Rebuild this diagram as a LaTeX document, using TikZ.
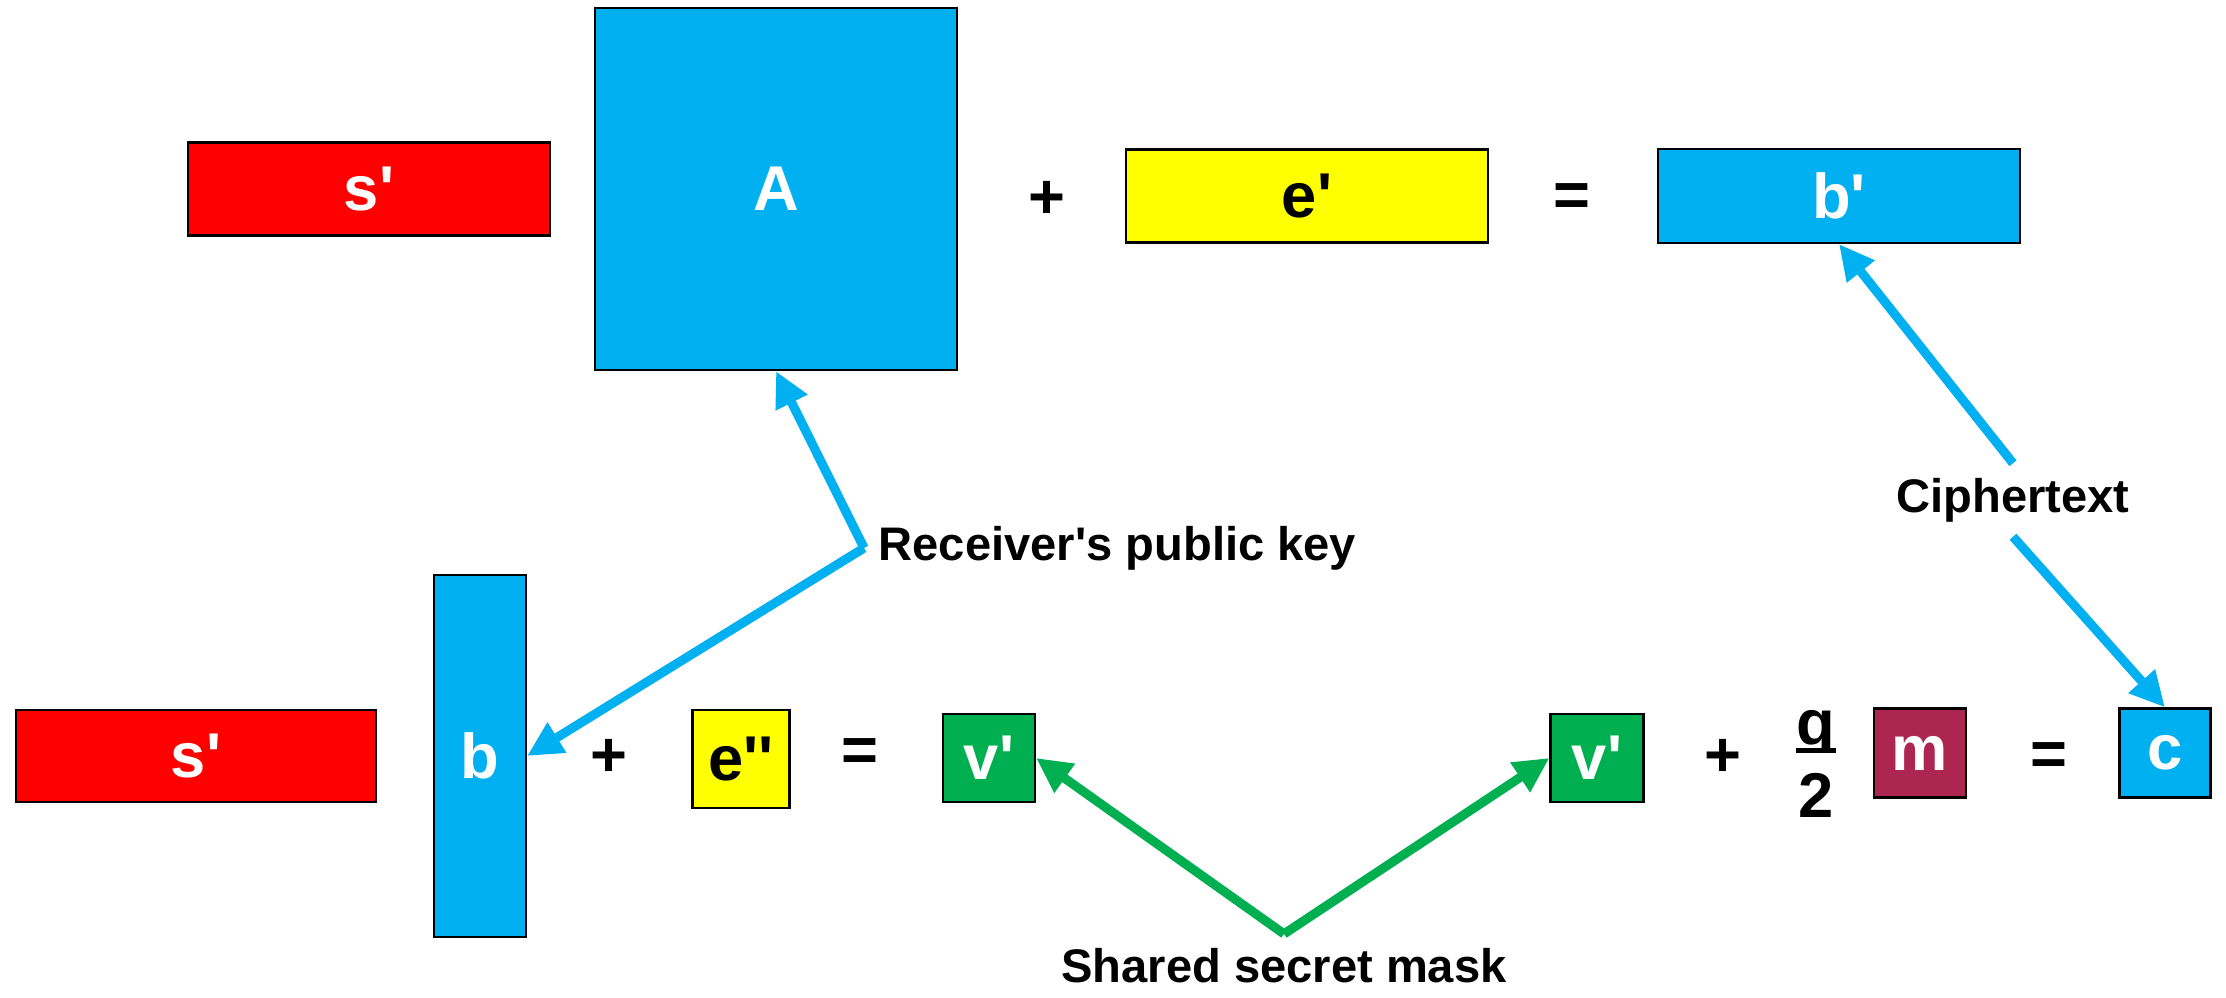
\documentclass[tikz,border=0pt]{standalone}
\usepackage{fontspec}
\setmainfont{Liberation Sans}[Ligatures=TeXOff]
\usepackage{tikz}
\usetikzlibrary{arrows.meta}
\definecolor{kblue}{RGB}{0,176,240}
\definecolor{kred}{RGB}{255,0,0}
\definecolor{kyellow}{RGB}{255,255,0}
\definecolor{kgreen}{RGB}{0,176,80}
\definecolor{kmaroon}{RGB}{173,38,81}

\begin{document}
\begin{tikzpicture}[x=0.01cm, y=-0.01cm,
  mat/.style={draw=black, line width=0.6pt, inner sep=0pt, text=white,
    font=\fontsize{18}{20}\selectfont\bfseries},
  sym/.style={inner sep=0pt, font=\fontsize{18}{20}\selectfont\bfseries},
  lbl/.style={inner sep=4pt, font=\fontsize{13.4}{15}\selectfont\bfseries},
  link/.style={line width=2.6pt, -{Triangle[length=10pt,width=9.5pt]}}]
\useasboundingbox (0,0) rectangle (2226,998);
%%%%% Encryption: u = A s' + e' %%%%%
\node[mat, fill=kred, minimum width=3.61cm, minimum height=0.93cm] (stop) at (369,189) {s'};
\node[mat, fill=kblue, minimum width=3.61cm, minimum height=3.62cm] (A) at (776,189) {A};
\node[sym] (plustop) at (1047,200) {+};
\node[mat, fill=kyellow, text=black, minimum width=3.61cm, minimum height=0.93cm] (etop) at (1307,196) {e'};
\node[sym] (eqtop) at (1572,200) {=};
\node[mat, fill=kblue, minimum width=3.62cm, minimum height=0.94cm] (bp) at (1839,196) {b'};
%%%%% Mask: v' = s' b + e'' %%%%%
\node[mat, fill=kred, minimum width=3.60cm, minimum height=0.92cm] (sbot) at (196,756) {s'};
\node[mat, fill=kblue, minimum width=0.92cm, minimum height=3.61cm] (b) at (480,756) {b};
\node[sym] (plusa) at (609,758) {+};
\node[mat, fill=kyellow, text=black, minimum width=0.97cm, minimum height=0.98cm] (epp) at (741,759) {e''};
\node[sym] (eqa) at (860,755) {=};
\node[mat, fill=kgreen, minimum width=0.92cm, minimum height=0.88cm] (va) at (989,758) {v'};
%%%%% c = v' + q/2 m %%%%%
\node[mat, fill=kgreen, minimum width=0.93cm, minimum height=0.88cm] (vb) at (1597,758) {v'};
\node[sym] (plusb) at (1723,758) {+};
\begin{scope}
\clip (1780,690) rectangle (1850,748);
\node[sym, text depth=0pt, anchor=base] (q) at (1816,745) {q};
\end{scope}
\draw[line width=1.5pt] ([yshift=-0.05cm]q.south west) -- ([yshift=-0.05cm]q.south east);
\node[sym, anchor=base] (two) at (1816,818) {2};
\node[mat, fill=kmaroon, minimum width=0.92cm, minimum height=0.89cm] (m) at (1920,753) {m};
\node[sym] (eqb) at (2049,759) {=};
\node[mat, fill=kblue, minimum width=0.91cm, minimum height=0.89cm] (c) at (2165,753) {c};
%%%%% Labels %%%%%
\node[lbl, anchor=west] (rpk) at (864,548) {Receiver's public key};
\node[lbl] (cipher) at (2013,500) {Ciphertext};
\node[lbl] (ssm) at (1284,966) {Shared secret mask};
\draw[link, kblue] (rpk.west) -- (A.south);
\draw[link, kblue] (rpk.west) -- (b.east);
\draw[link, kblue] (cipher.north) -- (bp.south);
\draw[link, kblue] (cipher.south) -- (c.north);
\draw[link, kgreen] (ssm.north) -- (va.east);
\draw[link, kgreen] (ssm.north) -- (vb.west);
\end{tikzpicture}
\end{document}
